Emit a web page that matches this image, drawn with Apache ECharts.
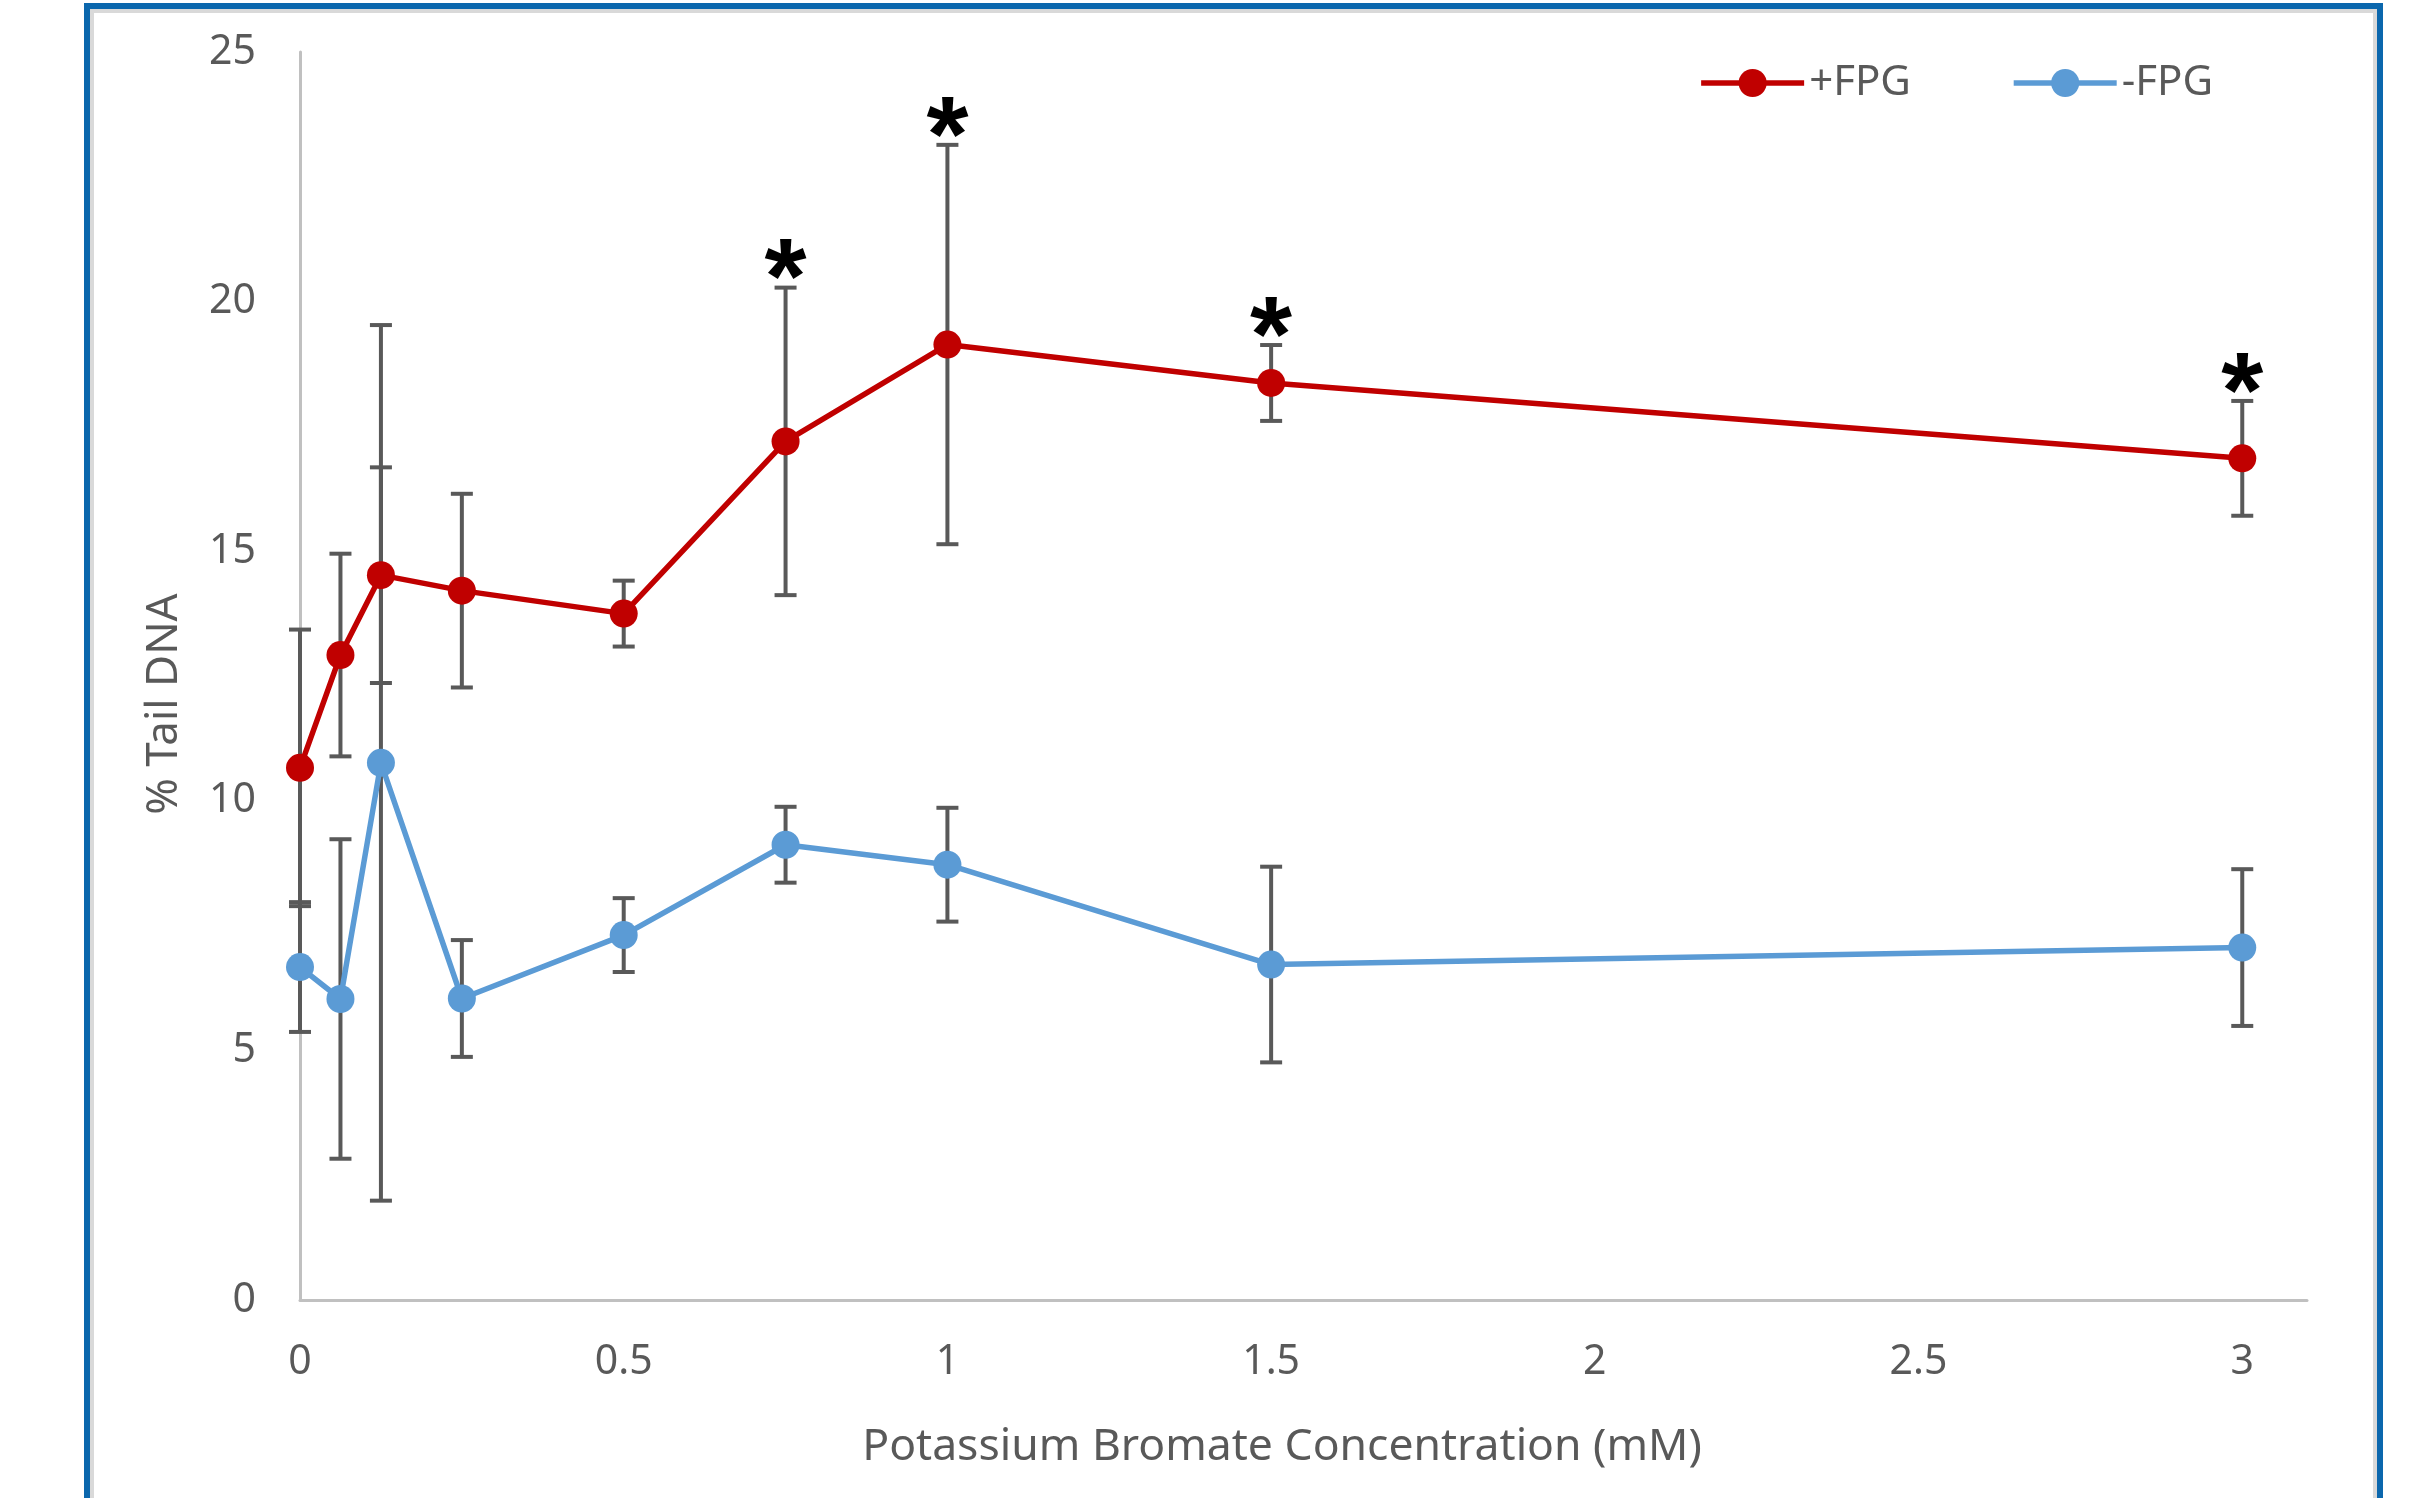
<!DOCTYPE html>
<html>
<head>
<meta charset="utf-8">
<script src="https://cdn.jsdelivr.net/npm/echarts@6/dist/echarts.min.js"></script>
<style>
html,body{margin:0;padding:0;background:#fff;}
#chart{width:2411px;height:1498px;}
</style>
</head>
<body>
<div id="chart"></div>
<script>
// ---- data ----
const doses = [0, 0.0625, 0.125, 0.25, 0.5, 0.75, 1, 1.5, 3];
const plusFPG = [10.66, 12.92, 14.52, 14.21, 13.75, 17.2, 19.14, 18.37, 16.86];
const plusErr = [2.77, 2.03, 2.16, 1.94, 0.66, 3.08, 4.0, 0.76, 1.15];
const minusFPG = [6.67, 6.03, 10.76, 6.04, 7.31, 9.12, 8.72, 6.72, 7.06];
const minusErr = [1.3, 3.2, 8.77, 1.17, 0.74, 0.76, 1.14, 1.96, 1.57];
const plusSig = [false, false, false, false, false, true, true, true, true];
const xTicks = [0, 0.5, 1, 1.5, 2, 2.5, 3];
const seriesNames = ['+FPG', '-FPG'];

const FONT = '"Noto Sans", "Open Sans", sans-serif';
const TXT = '#595959';

function errData(vals, errs, sig) {
  return doses.map((d, i) => [d, vals[i], errs[i], sig ? (sig[i] ? 1 : 0) : 0]);
}

function renderErr(params, api) {
  const x = api.value(0), v = api.value(1), e = api.value(2), s = api.value(3);
  const top = api.coord([x, v + e]);
  const bot = api.coord([x, v - e]);
  const hw = 11;
  const st = { stroke: '#595959', lineWidth: 4 };
  const children = [
    { type: 'line', shape: { x1: top[0], y1: top[1], x2: bot[0], y2: bot[1] }, style: st },
    { type: 'line', shape: { x1: top[0] - hw, y1: top[1], x2: top[0] + hw, y2: top[1] }, style: st },
    { type: 'line', shape: { x1: bot[0] - hw, y1: bot[1], x2: bot[0] + hw, y2: bot[1] }, style: st }
  ];
  if (s) {
    children.push({
      type: 'text',
      x: top[0], y: top[1] - 4,
      style: {
        text: '*', fill: '#000',
        font: 'bold 108px "Liberation Sans", Arial, sans-serif',
        align: 'center', verticalAlign: 'middle'
      }
    });
  }
  return { type: 'group', children };
}

const chart = echarts.init(document.getElementById('chart'), null, { renderer: 'canvas' });
chart.setOption({
  animation: false,
  backgroundColor: '#fff',
  graphic: [
    { type: 'rect', shape: { x: 92, y: 11, width: 2283, height: 2000 }, style: { fill: 'none', stroke: '#d9d9d9', lineWidth: 4 }, z: 0 },
    { type: 'rect', shape: { x: 87, y: 6, width: 2293, height: 2000 }, style: { fill: 'none', stroke: '#0b67ad', lineWidth: 6 }, z: 0 }
  ],
  grid: { left: 300, right: 104, top: 52, bottom: 198, containLabel: false },
  legend: {
    data: seriesNames,
    right: 198, top: 62,
    padding: 0,
    itemWidth: 103, itemHeight: 35,
    itemGap: 100,
    lineStyle: { width: 5.5 },
    textStyle: { fontFamily: FONT, fontSize: 42, color: TXT }
  },
  xAxis: {
    type: 'value', min: 0, max: 3.1, interval: 0.5,
    name: 'Potassium Bromate Concentration (mM)',
    nameLocation: 'middle', nameGap: 125,
    nameTextStyle: { fontFamily: FONT, fontSize: 44.5, color: TXT, padding: [0, 43, 0, 0] },
    axisLine: { show: true, lineStyle: { color: '#c0c0c0', width: 3 } },
    axisTick: { show: false },
    splitLine: { show: false },
    axisLabel: {
      fontFamily: FONT, fontSize: 41, color: TXT, margin: 42, showMaxLabel: false,
      formatter: v => (xTicks.indexOf(Math.round(v * 1000) / 1000) >= 0 ? String(Math.round(v * 1000) / 1000) : '')
    }
  },
  yAxis: {
    type: 'value', min: 0, max: 25, interval: 5,
    name: '% Tail DNA',
    nameLocation: 'middle', nameGap: 114, nameRotate: 90,
    nameTextStyle: { fontFamily: FONT, fontSize: 44, color: TXT, padding: [0, 56, 0, 0] },
    axisLine: { show: true, lineStyle: { color: '#c0c0c0', width: 3 } },
    axisTick: { show: false },
    splitLine: { show: false },
    axisLabel: { fontFamily: FONT, fontSize: 41, color: TXT, margin: 44 }
  },
  series: [
    {
      type: 'custom', name: 'errPlus', renderItem: renderErr, clip: false,
      encode: { x: 0, y: 1 }, data: errData(plusFPG, plusErr, plusSig), z: 1, silent: true
    },
    {
      type: 'custom', name: 'errMinus', renderItem: renderErr, clip: false,
      encode: { x: 0, y: 1 }, data: errData(minusFPG, minusErr, null), z: 1, silent: true
    },
    {
      type: 'line', name: seriesNames[0], data: doses.map((d, i) => [d, plusFPG[i]]),
      symbol: 'circle', symbolSize: 28, showAllSymbol: true,
      itemStyle: { color: '#c00000' }, lineStyle: { color: '#c00000', width: 5.5 }, z: 3
    },
    {
      type: 'line', name: seriesNames[1], data: doses.map((d, i) => [d, minusFPG[i]]),
      symbol: 'circle', symbolSize: 28, showAllSymbol: true,
      itemStyle: { color: '#5b9bd5' }, lineStyle: { color: '#5b9bd5', width: 5.5 }, z: 2
    }
  ]
});
</script>
</body>
</html>
